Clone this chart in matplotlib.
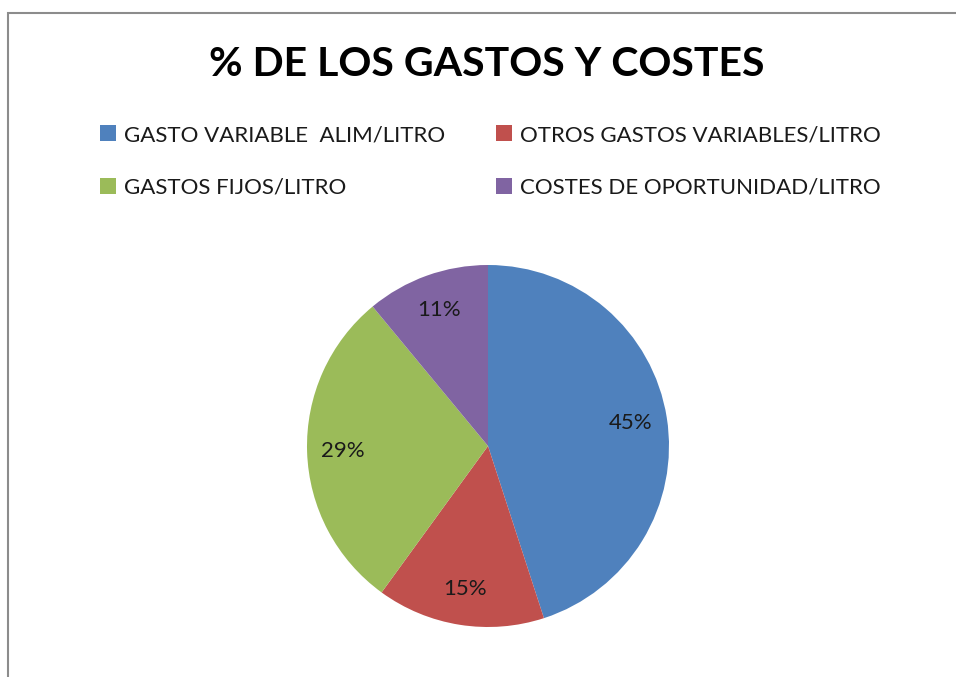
import matplotlib
matplotlib.use("Agg")
import matplotlib.pyplot as plt
from matplotlib.patches import Rectangle

categories = ["GASTO VARIABLE  ALIM/LITRO", "OTROS GASTOS VARIABLES/LITRO",
              "GASTOS FIJOS/LITRO", "COSTES DE OPORTUNIDAD/LITRO"]
values = [45, 15, 29, 11]
colors = ["#4F81BD", "#C0504D", "#9BBB59", "#8064A2"]
title = "% DE LOS GASTOS Y COSTES"

plt.rcParams['font.family'] = ['Lato', 'DejaVu Sans']

W, H = 956, 677
fig = plt.figure(figsize=(W / 100, H / 100), dpi=100)
fig.patch.set_facecolor("white")

# chart border (partially cropped on right/bottom)
fig.patches.append(Rectangle((7.5 / W, -0.1), 1.2, (H - 12.5) / H + 0.1,
                             transform=fig.transFigure, fill=False,
                             edgecolor="#8c8c8c", linewidth=1.5))

cx, cy, r = 488, 446, 181
ax = fig.add_axes([(cx - r) / W, (H - cy - r) / H, 2 * r / W, 2 * r / H])
wedges, texts, autotexts = ax.pie(values, colors=colors, startangle=90,
                                  counterclock=False, radius=1,
                                  autopct=lambda p: f"{p:.0f}%",
                                  pctdistance=0.8,
                                  wedgeprops=dict(linewidth=0),
                                  textprops=dict(fontsize=16, color="#1a1a1a"))
ax.set_xlim(-1, 1)
ax.set_ylim(-1, 1)
ax.set_aspect("equal")
ax.axis("off")

fig.text(487 / W, 1 - 64 / H, title, ha="center", va="center",
         fontsize=29.5, fontweight="bold", color="black")

order = [0, 2, 1, 3]
leg = fig.legend([wedges[i] for i in order], [categories[i] for i in order],
                 ncol=2, loc="upper left", bbox_to_anchor=(100 / W, 1 - 125 / H),
                 frameon=False, fontsize=16, handlelength=0.7, handleheight=0.7,
                 handletextpad=0.4, columnspacing=2.27, labelspacing=1.48,
                 borderaxespad=0, borderpad=0)
for t in leg.get_texts():
    t.set_color("#1a1a1a")

fig.savefig("out.png", dpi=100, facecolor="white")
